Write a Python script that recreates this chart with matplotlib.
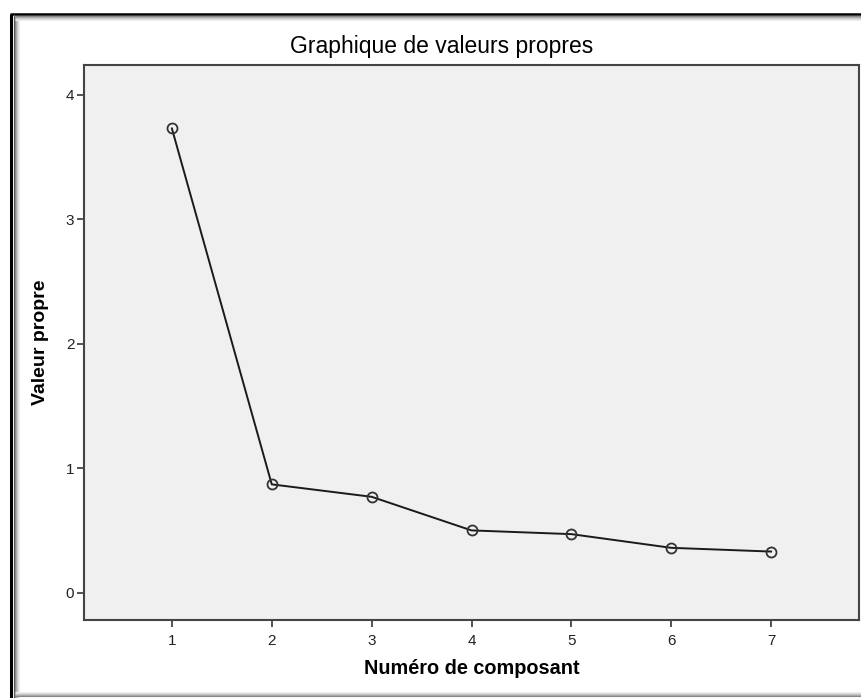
import matplotlib.pyplot as plt
from matplotlib.lines import Line2D

# data
composants = [1, 2, 3, 4, 5, 6, 7]
valeurs_propres = [3.73, 0.87, 0.77, 0.50, 0.47, 0.36, 0.33]
y_ticks = [0, 1, 2, 3, 4]

plt.rcParams['font.family'] = ['Liberation Sans', 'DejaVu Sans']

W, H = 861, 698
fig = plt.figure(figsize=(W / 100, H / 100), dpi=100)
fig.patch.set_facecolor('white')

# axes placement in pixels
left, right, top, bottom = 84, 859, 65, 620
ax = fig.add_axes([left / W, (H - bottom) / H, (right - left) / W, (bottom - top) / H])
ax.set_facecolor('#f0f0f0')

ax.plot(composants, valeurs_propres, '-o', color='#1a1a1a', lw=1.4,
        markersize=7.2, markerfacecolor='none', markeredgecolor='#333333',
        markeredgewidth=1.3)

ax.set_xlim(0.12, 7.88)
ax.set_ylim(-0.22, 4.24)
ax.set_xticks(composants)
ax.set_yticks(y_ticks)
ax.tick_params(direction='out', length=5, width=1.3, color='#444444',
               labelsize=11, labelcolor='#222222')
ax.tick_params(axis='x', pad=5)
ax.tick_params(axis='y', pad=2)
for s in ax.spines.values():
    s.set_color('#444444')
    s.set_linewidth(1.5)

fig.text(442 / W, 1 - 47 / H, 'Graphique de valeurs propres', fontsize=16.5,
         color='#000000', ha='center', va='center')
ax.set_xlabel('Numéro de composant', fontsize=14.3, fontweight='bold', labelpad=8)
ax.set_ylabel('Valeur propre', fontsize=14, fontweight='bold', labelpad=12)

# outer frame with shadow like the screenshot
def px_line(x0, y0, x1, y1, color, lw):
    fig.add_artist(Line2D([x0 / W, x1 / W], [1 - y0 / H, 1 - y1 / H],
                          transform=fig.transFigure, color=color, lw=lw,
                          solid_capstyle='butt'))

px_line(10, 14, W, 14, 'black', 1.8)
px_line(11, 14, 11, H, 'black', 2.2)
px_line(14, 14, 14, H, '#555555', 0.8)
shades = ['#888888', '#aaaaaa', '#c8c8c8', '#dddddd', '#eeeeee']
for i, c in enumerate(shades):
    px_line(15 + i, 16 + i, 15 + i, H, c, 0.8)
    px_line(15, 16 + i, W, 16 + i, c, 0.8)
for i, c in enumerate(shades[::-1]):
    px_line(15, 692 + i, W, 692 + i, c, 0.8)

fig.savefig('out.png', dpi=100)
